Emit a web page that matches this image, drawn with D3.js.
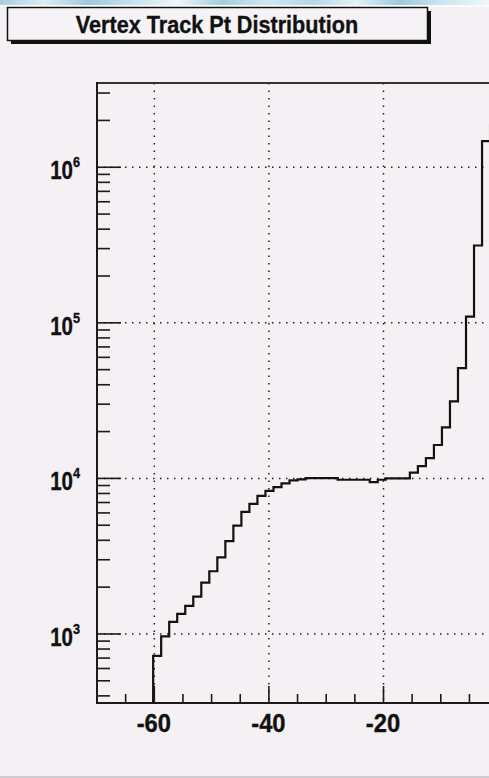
<!DOCTYPE html>
<html>
<head>
<meta charset="utf-8">
<script src="https://cdn.jsdelivr.net/npm/d3@7/dist/d3.min.js"></script>
<style>
  html, body { margin: 0; padding: 0; overflow: hidden; background: #f4f0f4; }
  svg { display: block; }
  text { font-family: "Liberation Sans", Arial, Helvetica, sans-serif; font-weight: bold; fill: #111; stroke: #111; stroke-width: 0.35px; }
</style>
</head>
<body>
<svg id="chart" width="489" height="778"></svg>
<script>
// ---------------- data ----------------
const title = "Vertex Track Pt Distribution";
const histMin = -70, histMax = 70, binWidth = 1.4;   // 100 bins
const firstBin = 7;                                   // index of first filled bin
const counts = [
  723, 965, 1195, 1345, 1515, 1740, 2140, 2530, 3110, 3950,
  4970, 6100, 6850, 7710, 8320, 8800, 9300, 9700, 9850, 10030,
  10030, 10030, 10030, 9800, 9800, 9800, 9800, 9450, 9800, 10000,
  10000, 10000, 10890, 12000, 13500, 16400, 21300, 31300, 51100, 109700,
  314000, 1470000, 1870000
];
const xMajorTicks = [-60, -40, -20, 0, 20, 40, 60];
const xTickLabels = ["-60", "-40", "-20", "0", "20", "40", "60"];
const xMinorStep = 5;
const yDecades = [3, 4, 5, 6];
const yMin = 360, yMax = 3.48e6;

// ---------------- layout ----------------
const svg = d3.select("#chart");
const W = 489, H = 778;
const plotLeft = 97, plotTop = 83, plotBottom = 703;
const pxPerUnit = 5.73;

const x = d3.scaleLinear().domain([histMin, histMax]).range([plotLeft, plotLeft + (histMax - histMin) * pxPerUnit]);
const y = d3.scaleLog().domain([yMin, yMax]).range([plotBottom, plotTop]);

// background
svg.append("rect").attr("width", W).attr("height", H).attr("fill", "#f4f0f4");

// decorative top strip
const defs = svg.append("defs");
const grad = defs.append("linearGradient").attr("id", "strip").attr("x1", 0).attr("x2", 1);
const stripCols = ["#a9cfe0", "#dcedf4", "#9fc9dc", "#c8e2ee", "#eef6f9", "#a5cde0", "#d2e8f1", "#b4d7e6", "#e6f2f7", "#9ec8dc", "#cfe6f0", "#f0f7fa"];
stripCols.forEach((c, i) => grad.append("stop").attr("offset", i / (stripCols.length - 1)).attr("stop-color", c));
svg.append("rect").attr("x", 0).attr("y", 0).attr("width", W).attr("height", 5).attr("fill", "url(#strip)");
svg.append("rect").attr("x", 0).attr("y", 5).attr("width", W).attr("height", 2).attr("fill", "#fbfbfc");

// bottom grey line
svg.append("rect").attr("x", 0).attr("y", 776).attr("width", W).attr("height", 2).attr("fill", "#cfcccf");

// title box
svg.append("rect").attr("x", 11).attr("y", 11).attr("width", 420).attr("height", 33).attr("fill", "#111");
svg.append("rect").attr("x", 7.5).attr("y", 7.5).attr("width", 420).attr("height", 33)
  .attr("fill", "#f6f3f6").attr("stroke", "#111").attr("stroke-width", 1.5);
svg.append("text").attr("transform", "translate(217,32.5) scale(0.94,1)")
  .attr("text-anchor", "middle").style("font-size", "23px").text(title);

const plot = svg.append("g");

// grid lines (dotted)
plot.selectAll(".vgrid").data(xMajorTicks).join("line")
  .attr("x1", d => x(d)).attr("x2", d => x(d))
  .attr("y1", plotTop).attr("y2", plotBottom)
  .attr("stroke", "#222").attr("stroke-width", 1.5).attr("stroke-dasharray", "1.5,6");
plot.selectAll(".hgrid").data(yDecades).join("line")
  .attr("x1", plotLeft).attr("x2", x(histMax))
  .attr("y1", d => y(Math.pow(10, d))).attr("y2", d => y(Math.pow(10, d)))
  .attr("stroke", "#222").attr("stroke-width", 1.5).attr("stroke-dasharray", "1.5,5.5");

// histogram
const edges = d3.range(counts.length + 1).map(k => histMin + (firstBin + k) * binWidth);
let path = `M${x(edges[0])},${plotBottom}`;
counts.forEach((c, k) => {
  path += `V${y(c)}H${x(edges[k + 1])}`;
});
plot.append("path").attr("d", path).attr("fill", "none")
  .attr("stroke", "#111").attr("stroke-width", 2.2);

// frame
const axisCol = "#1a1a1a";
plot.append("line").attr("x1", plotLeft).attr("x2", W + 5).attr("y1", plotTop).attr("y2", plotTop)
  .attr("stroke", "#333").attr("stroke-width", 2);
plot.append("line").attr("x1", plotLeft).attr("x2", plotLeft).attr("y1", plotTop - 1).attr("y2", plotBottom + 1)
  .attr("stroke", axisCol).attr("stroke-width", 2);
plot.append("line").attr("x1", plotLeft - 1).attr("x2", W + 5).attr("y1", plotBottom).attr("y2", plotBottom)
  .attr("stroke", axisCol).attr("stroke-width", 2);

// x ticks
const xMinor = d3.range(histMin + xMinorStep, histMax, xMinorStep).filter(v => !xMajorTicks.includes(v));
plot.selectAll(".xminor").data(xMinor).join("line")
  .attr("x1", d => x(d)).attr("x2", d => x(d))
  .attr("y1", plotBottom).attr("y2", plotBottom - 9)
  .attr("stroke", axisCol).attr("stroke-width", 1.6);
plot.selectAll(".xmajor").data(xMajorTicks).join("line")
  .attr("x1", d => x(d)).attr("x2", d => x(d))
  .attr("y1", plotBottom).attr("y2", plotBottom - 17)
  .attr("stroke", axisCol).attr("stroke-width", 1.6);
// only labels that lie inside the visible window
const visibleLabels = xMajorTicks.map((v, i) => ({ v, t: xTickLabels[i] })).filter(d => x(d.v) + 20 < W);
plot.selectAll(".xlab").data(visibleLabels).join("text")
  .attr("transform", d => `translate(${x(d.v) - 0.5},731.5) scale(0.95,1)`)
  .attr("text-anchor", "middle").style("font-size", "25px")
  .text(d => d.t);

// y ticks
const lo = Math.floor(Math.log10(yMin)), hi = Math.ceil(Math.log10(yMax));
const yMinor = [];
for (let e = lo; e <= hi; e++) for (let m = 2; m <= 9; m++) {
  const v = m * Math.pow(10, e);
  if (v > yMin && v < yMax) yMinor.push(v);
}
plot.selectAll(".yminor").data(yMinor).join("line")
  .attr("x1", plotLeft).attr("x2", plotLeft + 13)
  .attr("y1", d => y(d)).attr("y2", d => y(d))
  .attr("stroke", axisCol).attr("stroke-width", 1.6);
plot.selectAll(".ymajor").data(yDecades).join("line")
  .attr("x1", plotLeft).attr("x2", plotLeft + 24)
  .attr("y1", d => y(Math.pow(10, d))).attr("y2", d => y(Math.pow(10, d)))
  .attr("stroke", axisCol).attr("stroke-width", 1.6);
const ylab = plot.selectAll(".ylab").data(yDecades).join("text")
  .attr("transform", d => `translate(80,${y(Math.pow(10, d)) + 11.7}) scale(0.82,1)`)
  .attr("text-anchor", "end");
ylab.append("tspan").style("font-size", "25px").text("10");
ylab.append("tspan").style("font-size", "15.5px").attr("dy", -11.7).text(d => d);
</script>
</body>
</html>
